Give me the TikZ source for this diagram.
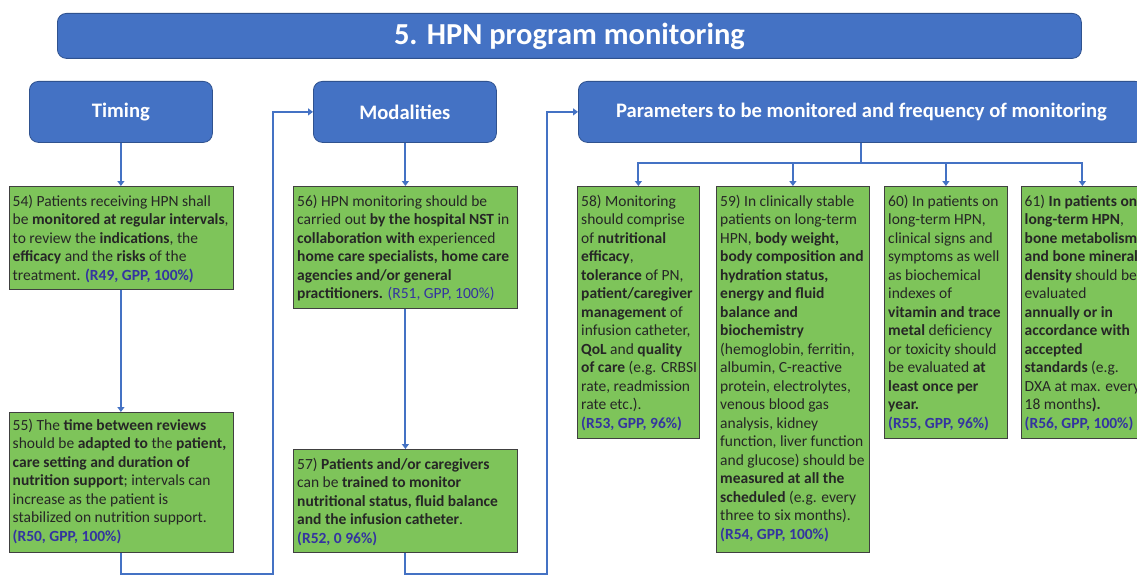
\documentclass[tikz,border=0pt]{standalone}
\usepackage{fontspec}
\setmainfont{Carlito}
\usetikzlibrary{arrows.meta}
\definecolor{hdrblue}{HTML}{4472C4}
\definecolor{hdredge}{HTML}{2F528F}
\definecolor{boxgreen}{RGB}{126,196,90}
\definecolor{refblue}{RGB}{52,52,160}
\definecolor{txtgray}{RGB}{38,38,38}
\newcommand{\bld}[1]{\textbf{#1}}
\newcommand{\rf}[1]{\textcolor{refblue}{\textbf{#1}}}
\begin{document}
\begin{tikzpicture}[x=1pt,y=-1pt,
  hdr/.style={draw=hdredge, line width=0.8pt, fill=hdrblue, rounded corners=9pt, text=white,
    font=\bfseries\fontsize{20.6}{24}\selectfont, anchor=north west, inner sep=0pt},
  gbox/.style={draw=black!75, line width=0.8pt, fill=boxgreen, anchor=north west, inner sep=0pt},
  gtxt/.style={anchor=north west, inner sep=0pt, align=left, text=txtgray,
    font=\fontsize{15.5}{18.5}\selectfont},
  conn/.style={draw=hdrblue, line width=2pt},
  arr/.style={conn, -{Triangle[width=7pt,length=5pt]}}]
\clip (0,0) rectangle (1137,575);
\fill[white] (0,0) rectangle (1137,575);

% title
\node[hdr, minimum width=1024pt, minimum height=45pt, font=\bfseries\fontsize{30.5}{34}\selectfont] (title) at (57,13) {5. HPN program monitoring};

% headers
\node[hdr, minimum width=183pt, minimum height=61pt] (timing) at (29,81) {Timing};
\node[hdr, minimum width=183pt, minimum height=61pt] (mod) at (313,81) {Modalities};
\node[hdr, minimum width=566pt, minimum height=61pt] (par) at (578,81) {Parameters to be monitored and frequency of monitoring};

% green boxes
\node[gbox, minimum width=224pt, minimum height=103pt] (b54) at (8.5,186) {};
\node[gbox, minimum width=224pt, minimum height=140pt] (b55) at (8.5,412) {};
\node[gbox, minimum width=224pt, minimum height=122pt] (b56) at (293,186) {};
\node[gbox, minimum width=224pt, minimum height=103pt] (b57) at (293,449) {};
\node[gbox, minimum width=122pt, minimum height=252pt] (b58) at (577,186) {};
\node[gbox, minimum width=153pt, minimum height=366pt] (b59) at (716,186) {};
\node[gbox, minimum width=123pt, minimum height=252pt] (b60) at (884,186) {};
\node[gbox, minimum width=123pt, minimum height=252pt] (b61) at (1020.5,186) {};

% texts
\node[gtxt] (t54) at ([shift={(4pt,-7pt)}]b54.north west) {\strut 54) Patients receiving HPN shall\\
be \bld{monitored at regular intervals},\\
to review the \bld{indications}, the\\
\bld{efficacy} and the \bld{risks} of the\\
treatment. \rf{(R49, GPP, 100\%)}};

\node[gtxt] (t55) at ([shift={(4pt,-5pt)}]b55.north west) {\strut 55) The \bld{time between reviews}\\
should be \bld{adapted to} the \bld{patient,}\\
\bld{care setting and duration of}\\
\bld{nutrition support}; intervals can\\
increase as the patient is\\
stabilized on nutrition support.\\
\rf{(R50, GPP, 100\%)}};

\node[gtxt] (t56) at ([shift={(4pt,-7pt)}]b56.north west) {\strut 56) HPN monitoring should be\\
carried out \bld{by the hospital NST} in\\
\bld{collaboration with} experienced\\
\bld{home care specialists, home care}\\
\bld{agencies and/or general}\\
\bld{practitioners.} \textcolor{refblue}{(R51, GPP, 100\%)}};

\node[gtxt] (t57) at ([shift={(4pt,-7pt)}]b57.north west) {\strut 57) \bld{Patients and/or caregivers}\\
can be \bld{trained to monitor}\\
\bld{nutritional status, fluid balance}\\
\bld{and the infusion catheter}.\\
\rf{(R52, 0 96\%)}};

\node[gtxt] (t58) at ([shift={(4pt,-7pt)}]b58.north west) {\strut 58) Monitoring\\
should comprise\\
of \bld{nutritional}\\
\bld{efficacy},\\
\bld{tolerance} of PN,\\
\bld{patient/caregiver}\\
\bld{management} of\\
infusion catheter,\\
\bld{QoL} and \bld{quality}\\
\bld{of care} (e.g. CRBSI\\
rate, readmission\\
rate etc.).\\
\rf{(R53, GPP, 96\%)}};

\node[gtxt] (t59) at ([shift={(4pt,-7pt)}]b59.north west) {\strut 59) In clinically stable\\
patients on long-term\\
HPN, \bld{body weight,}\\
\bld{body composition and}\\
\bld{hydration status,}\\
\bld{energy and fluid}\\
\bld{balance and}\\
\bld{biochemistry}\\
(hemoglobin, ferritin,\\
albumin, C-reactive\\
protein, electrolytes,\\
venous blood gas\\
analysis, kidney\\
function, liver function\\
and glucose) should be\\
\bld{measured at all the}\\
\bld{scheduled} (e.g. every\\
three to six months).\\
\rf{(R54, GPP, 100\%)}};

\node[gtxt] (t60) at ([shift={(4pt,-7pt)}]b60.north west) {\strut 60) In patients on\\
long-term HPN,\\
clinical signs and\\
symptoms as well\\
as biochemical\\
indexes of\\
\bld{vitamin and trace}\\
\bld{metal} deficiency\\
or toxicity should\\
be evaluated \bld{at}\\
\bld{least once per}\\
\bld{year.}\\
\rf{(R55, GPP, 96\%)}};

\node[gtxt] (t61) at ([shift={(4pt,-7pt)}]b61.north west) {\strut 61) \bld{In patients on}\\
\bld{long-term HPN},\\
\bld{bone metabolism}\\
\bld{and bone mineral}\\
\bld{density} should be\\
evaluated\\
\bld{annually or in}\\
\bld{accordance with}\\
\bld{accepted}\\
\bld{standards} (e.g.\\
DXA at max. every\\
18 months\bld{).}\\
\rf{(R56, GPP, 100\%)}};

% connectors
\coordinate (j1) at (273,573.5);
\coordinate (j2) at (547,573.5);
\coordinate (bar) at (861,163);

\draw[arr] (timing.south -| b54.north) -- (b54.north);
\draw[arr] (b54.south) -- (b55.north);
\draw[arr] (b55.south) |- (j1) |- (mod.west);
\draw[arr] (mod.south -| b56.north) -- (b56.north);
\draw[arr] (b56.south) -- (b57.north);
\draw[arr] (b57.south) |- (j2) |- (par.west);
\draw[arr] (par.south -| bar) -- (bar) -| (b58.north);
\draw[arr] (bar) -| (b59.north);
\draw[arr] (bar) -| (b60.north);
\draw[arr] (bar) -| (b61.north);
\end{tikzpicture}
\end{document}
